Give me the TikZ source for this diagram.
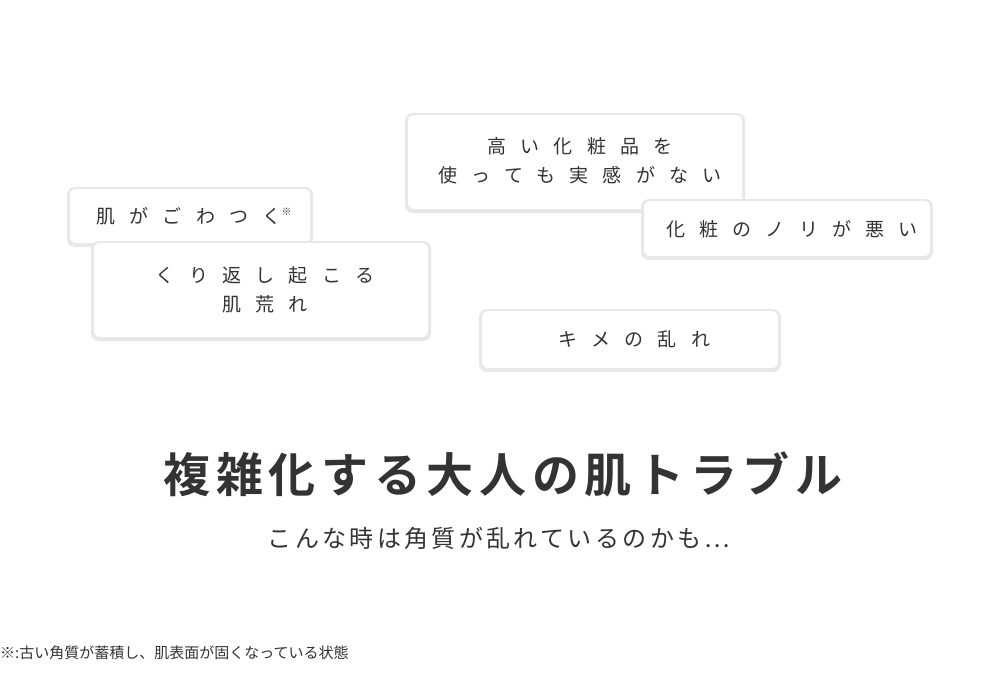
\documentclass[tikz,border=0pt]{standalone}
\usepackage{fontspec}
\setmainfont{Noto Sans CJK JP}
\newfontfamily\boxf[LetterSpace=75]{Noto Sans CJK JP}
\newfontfamily\titf[LetterSpace=12]{Noto Sans CJK JP Bold}
\newfontfamily\subf[LetterSpace=14]{Noto Sans CJK JP}
\definecolor{ink}{HTML}{333333}
\begin{document}
\begin{tikzpicture}[x=1pt,y=-1pt,
  card/.style={fill=white,rounded corners=6pt,draw=none},
  cshadow/.style={fill=black!9,rounded corners=8pt,draw=none},
  ctext/.style={text=ink,align=center,font=\boxf\fontsize{19}{29}\selectfont}]
\useasboundingbox[fill=white] (0,0) rectangle (1000,680);
\foreach \a/\b/\c/\d in {70/189/310/243,94/243/428/337,408/115/742/209,644/201/930/256,482/311/778/368}{
  \fill[cshadow] (\a-3,\b-2) rectangle (\c+3,\d+4);
  \fill[card] (\a,\b) rectangle (\c,\d);
}
\node[ctext] (n1) at (194,216) {肌がごわつく\raisebox{0.4em}{\fontsize{10}{10}\selectfont ※}};
\node[ctext] (n2) at (265,290) {くり返し起こる\\肌荒れ};
\node[ctext] (n3) at (580,161) {高い化粧品を\\使っても実感がない};
\node[ctext] (n4) at (792,229) {化粧のノリが悪い};
\node[ctext] (n5) at (634,339) {キメの乱れ};
\node[text=ink,font=\titf\fontsize{47}{50}\selectfont] (t) at (503,474) {複雑化する大人の肌トラブル};
\node[text=ink,font=\subf\fontsize{24}{26}\selectfont] (s) at (499,538) {こんな時は角質が乱れているのかも…};
\node[text=ink,anchor=west,inner sep=0pt,font=\fontsize{15}{16}\selectfont] (f) at (0,653) {※:古い角質が蓄積し、肌表面が固くなっている状態};
\end{tikzpicture}
\end{document}
